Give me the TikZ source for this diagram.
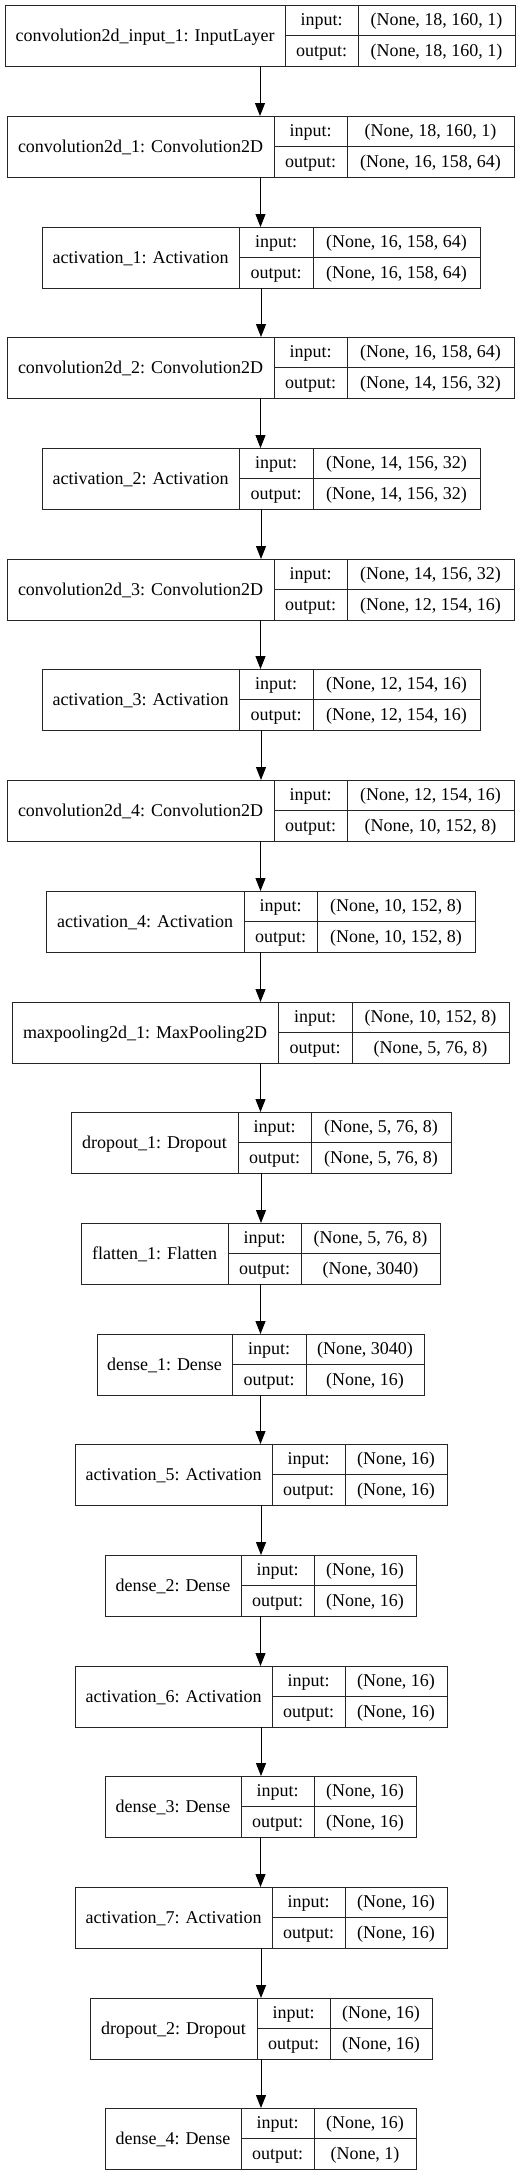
\documentclass[tikz,border=0pt]{standalone}
\usepackage{fontspec}
\setmainfont{Liberation Serif}
\usetikzlibrary{arrows.meta, positioning}

\tikzset{
  cell/.style={draw=black!85, line width=1pt, inner sep=0pt, outer sep=0pt,
    minimum height=30.5pt, text height=14pt, text depth=3pt,
    font=\fontsize{18}{20}\selectfont},
  namecell/.style={cell, minimum height=61pt},
  rec/.style={inner sep=0pt, outer sep=0pt, minimum height=61pt},
  link/.style={draw=black, line width=1pt, -{Triangle[length=13pt,width=10pt]}}
}

% one keras layer: id, top, x0, x1, x2, x3, label, input, output
\newcommand{\layer}[9]{%
  \node[rec, minimum width={(#6-#3)*1pt}] (#1) at ({(#3+#6)/2},{#2+30.5}) {};
  \node[namecell, minimum width={(#4-#3)*1pt}] (#1-name) at ({(#3+#4)/2},{#2+30.5}) {#7};
  \node[cell, minimum width={(#5-#4)*1pt}] (#1-inkey) at ({(#4+#5)/2},{#2+15.25}) {input:};
  \node[cell, minimum width={(#6-#5)*1pt}] (#1-inval) at ({(#5+#6)/2},{#2+15.25}) {#8};
  \node[cell, minimum width={(#5-#4)*1pt}] (#1-outkey) at ({(#4+#5)/2},{#2+45.75}) {output:};
  \node[cell, minimum width={(#6-#5)*1pt}] (#1-outval) at ({(#5+#6)/2},{#2+45.75}) {#9};
}

\begin{document}
\begin{tikzpicture}[x=1pt, y=-1pt]
            \fill[white] (0,0) rectangle (521,2176);
            \useasboundingbox (0,0) rectangle (521,2176);
            \layer{in1}{5}{5}{285}{358}{515}{convolution2d\_input\_1: InputLayer}{(None, 18, 160, 1)}{(None, 18, 160, 1)}
            \layer{conv1}{116}{7}{274}{347}{514}{convolution2d\_1: Convolution2D}{(None, 18, 160, 1)}{(None, 16, 158, 64)}
            \layer{act1}{227}{42}{239}{313}{480}{activation\_1: Activation}{(None, 16, 158, 64)}{(None, 16, 158, 64)}
            \layer{conv2}{337}{7}{274}{347}{514}{convolution2d\_2: Convolution2D}{(None, 16, 158, 64)}{(None, 14, 156, 32)}
            \layer{act2}{448}{42}{239}{313}{480}{activation\_2: Activation}{(None, 14, 156, 32)}{(None, 14, 156, 32)}
            \layer{conv3}{559}{7}{274}{347}{514}{convolution2d\_3: Convolution2D}{(None, 14, 156, 32)}{(None, 12, 154, 16)}
            \layer{act3}{669}{42}{239}{313}{480}{activation\_3: Activation}{(None, 12, 154, 16)}{(None, 12, 154, 16)}
            \layer{conv4}{780}{7}{274}{347}{514}{convolution2d\_4: Convolution2D}{(None, 12, 154, 16)}{(None, 10, 152, 8)}
            \layer{act4}{891}{46}{244}{317}{475}{activation\_4: Activation}{(None, 10, 152, 8)}{(None, 10, 152, 8)}
            \layer{pool1}{1002}{12}{278}{352}{509}{maxpooling2d\_1: MaxPooling2D}{(None, 10, 152, 8)}{(None, 5, 76, 8)}
            \layer{drop1}{1112}{71}{238}{311}{451}{dropout\_1: Dropout}{(None, 5, 76, 8)}{(None, 5, 76, 8)}
            \layer{flat1}{1223}{81}{228}{301}{440}{flatten\_1: Flatten}{(None, 5, 76, 8)}{(None, 3040)}
            \layer{dense1}{1334}{97}{232}{306}{424}{dense\_1: Dense}{(None, 3040)}{(None, 16)}
            \layer{act5}{1444}{75}{272}{345}{447}{activation\_5: Activation}{(None, 16)}{(None, 16)}
            \layer{dense2}{1555}{105}{241}{314}{416}{dense\_2: Dense}{(None, 16)}{(None, 16)}
            \layer{act6}{1666}{75}{272}{345}{447}{activation\_6: Activation}{(None, 16)}{(None, 16)}
            \layer{dense3}{1776}{105}{241}{314}{416}{dense\_3: Dense}{(None, 16)}{(None, 16)}
            \layer{act7}{1887}{75}{272}{345}{447}{activation\_7: Activation}{(None, 16)}{(None, 16)}
            \layer{drop2}{1998}{90}{257}{330}{432}{dropout\_2: Dropout}{(None, 16)}{(None, 16)}
            \layer{dense4}{2108}{105}{241}{314}{416}{dense\_4: Dense}{(None, 16)}{(None, 1)}
            % arrows between layers
            \foreach \a/\b in {in1/conv1, conv1/act1, act1/conv2, conv2/act2, act2/conv3,
                conv3/act3, act3/conv4, conv4/act4, act4/pool1, pool1/drop1, drop1/flat1,
                flat1/dense1, dense1/act5, act5/dense2, dense2/act6, act6/dense3,
                dense3/act7, act7/drop2, drop2/dense4}
                \draw[link] (\a.south) -- (\a.south |- \b.north);
        \end{tikzpicture}
\end{document}
